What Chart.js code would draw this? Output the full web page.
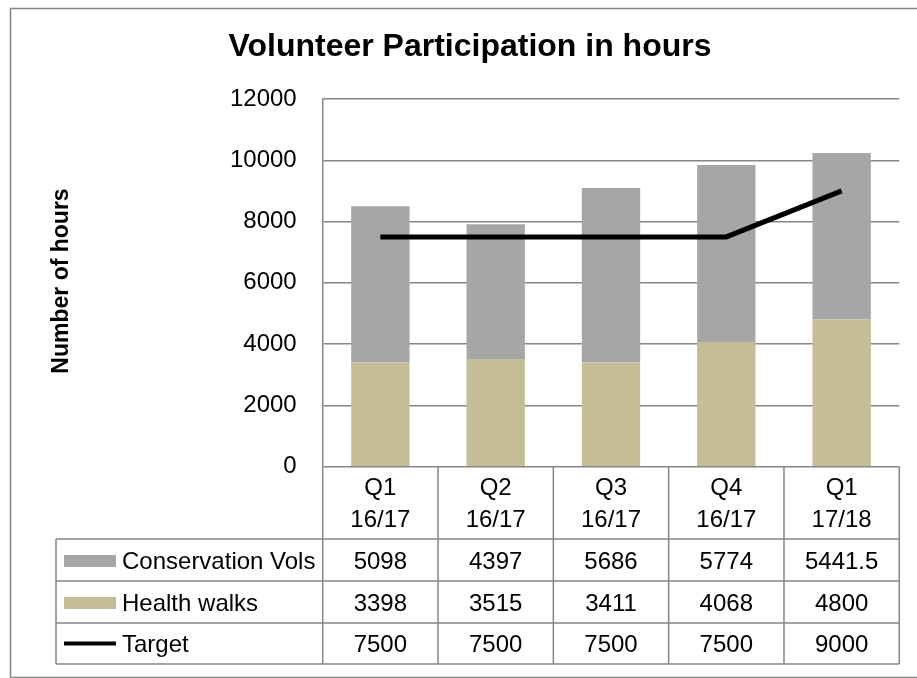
<!DOCTYPE html>
<html>
<head>
<meta charset="utf-8">
<title>Volunteer Participation in hours</title>
<script src="https://cdn.jsdelivr.net/npm/chart.js@4.4.1/dist/chart.umd.min.js"></script>
<style>
  html, body { margin: 0; padding: 0; background: #fff; }
  canvas { display: block; }
</style>
</head>
<body>
<canvas id="volChart" width="917" height="678"></canvas>
<script>
// chart data
const categories = [["Q1", "16/17"], ["Q2", "16/17"], ["Q3", "16/17"], ["Q4", "16/17"], ["Q1", "17/18"]]
const conservationVols = [5098, 4397, 5686, 5774, 5441.5]
const healthWalks = [3398, 3515, 3411, 4068, 4800]
const target = [7500, 7500, 7500, 7500, 9000]
const yTicks = [0, 2000, 4000, 6000, 8000, 10000, 12000]

const FONT = "'Liberation Sans', Arial, sans-serif"
const LINE_GREY = "#868686"

// white page, outer frame, titles
const framePlugin = {
  id: "frame",
  beforeDraw(chart) {
    const ctx = chart.ctx
    ctx.save()
    ctx.fillStyle = "#fff"
    ctx.fillRect(0, 0, chart.width, chart.height)
    ctx.strokeStyle = LINE_GREY
    ctx.lineWidth = 1.5
    ctx.strokeRect(10.5, 8.5, chart.width + 10, 669)
    ctx.restore()
  },
  afterDraw(chart) {
    const ctx = chart.ctx
    ctx.save()
    ctx.fillStyle = "#000"
    ctx.textAlign = "center"
    ctx.textBaseline = "alphabetic"
    ctx.font = "bold 32px " + FONT
    ctx.fillText("Volunteer Participation in hours", 470, 56)

    ctx.translate(62, 281)
    ctx.rotate(-Math.PI / 2)
    ctx.textBaseline = "middle"
    ctx.font = "bold 23px " + FONT
    ctx.fillText("Number of hours", 0, 0)
    ctx.restore()
  },
}

// Excel-style data table under the plot
const tablePlugin = {
  id: "dataTable",
  afterDraw(chart) {
    const ctx = chart.ctx
    const x = chart.scales.x
    const area = chart.chartArea
    const half = (x.getPixelForValue(1) - x.getPixelForValue(0)) / 2
    const edges = categories.map((c, i) => x.getPixelForValue(i) - half)
    edges.push(x.getPixelForValue(categories.length - 1) + half)
    const tableLeft = 56
    const rowLines = [539, 581, 623, 664]

    ctx.save()
    ctx.strokeStyle = LINE_GREY
    ctx.lineWidth = 1.5
    ctx.beginPath()
    edges.forEach((ex) => {
      ctx.moveTo(ex, area.bottom)
      ctx.lineTo(ex, rowLines[3])
    })
    ctx.moveTo(tableLeft, rowLines[0])
    ctx.lineTo(tableLeft, rowLines[3])
    rowLines.forEach((ry) => {
      ctx.moveTo(tableLeft, ry)
      ctx.lineTo(edges[edges.length - 1], ry)
    })
    ctx.stroke()

    ctx.fillStyle = "#000"
    ctx.font = "24px " + FONT
    ctx.textBaseline = "alphabetic"
    ctx.textAlign = "center"
    categories.forEach((lines, i) => {
      const cx = x.getPixelForValue(i)
      ctx.fillText(lines[0], cx, 495)
      ctx.fillText(lines[1], cx, 526.5)
    })

    // rows: Conservation Vols, Health walks, Target
    const order = [1, 0, 2]
    order.forEach((dsIndex, r) => {
      const ds = chart.data.datasets[dsIndex]
      const mid = (rowLines[r] + rowLines[r + 1]) / 2
      if (ds.type === "line") {
        ctx.fillStyle = ds.borderColor
        ctx.fillRect(64, mid - 2, 52, 4)
      } else {
        ctx.fillStyle = ds.backgroundColor
        ctx.fillRect(64, mid - 5, 52, 12)
      }
      ctx.fillStyle = "#000"
      ctx.textAlign = "left"
      ctx.fillText(ds.label, 122, mid + 8.6)
      ctx.textAlign = "center"
      ds.data.forEach((v, i) => {
        ctx.fillText(String(v), x.getPixelForValue(i), mid + 8.6)
      })
    })
    ctx.restore()
  },
}

const ctx = document.getElementById("volChart").getContext("2d")
new Chart(ctx, {
  type: "bar",
  data: {
    labels: categories,
    datasets: [
      {
        label: "Health walks",
        data: healthWalks,
        backgroundColor: "#C4BD97",
        stack: "hours",
        order: 1,
      },
      {
        label: "Conservation Vols",
        data: conservationVols,
        backgroundColor: "#A6A6A6",
        stack: "hours",
        order: 1,
      },
      {
        type: "line",
        label: "Target",
        data: target,
        borderColor: "#000000",
        backgroundColor: "#000000",
        borderWidth: 5,
        pointRadius: 0,
        tension: 0,
        stack: "target",
        order: 0,
      },
    ],
  },
  options: {
    responsive: false,
    animation: false,
    layout: {
      padding: { left: 0, top: 99, right: 17.7, bottom: 211.3 },
    },
    datasets: {
      bar: { categoryPercentage: 1, barPercentage: 0.506 },
    },
    scales: {
      x: {
        display: false,
        stacked: true,
      },
      y: {
        stacked: true,
        min: yTicks[0],
        max: yTicks[yTicks.length - 1],
        afterFit(scale) {
          scale.width = 322.7
        },
        ticks: {
          stepSize: yTicks[1] - yTicks[0],
          padding: 26,
          color: "#000",
          font: { family: FONT, size: 24 },
          callback: (v) => String(v),
        },
        grid: { color: LINE_GREY, lineWidth: 1.5, drawTicks: false },
        border: { color: LINE_GREY, width: 1.5 },
      },
    },
    plugins: {
      legend: { display: false },
      title: { display: false },
      tooltip: { enabled: false },
    },
  },
  plugins: [framePlugin, tablePlugin],
})
</script>
</body>
</html>
